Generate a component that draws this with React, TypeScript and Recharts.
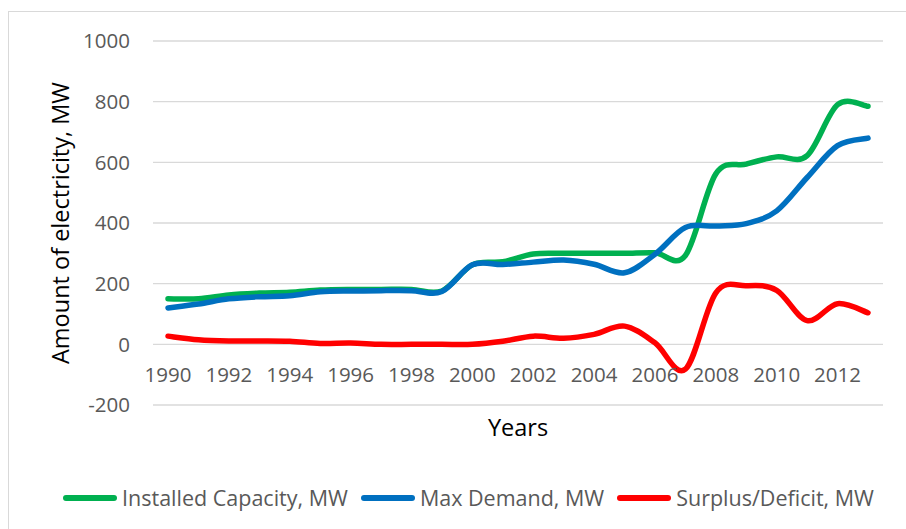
import React from 'react';
import { LineChart, Line, XAxis, YAxis, CartesianGrid, Legend } from 'recharts';

// years on the category axis
const years = [
  '1990', '1991', '1992', '1993', '1994', '1995', '1996', '1997', '1998', '1999', '2000', '2001',
  '2002', '2003', '2004', '2005', '2006', '2007', '2008', '2009', '2010', '2011', '2012', '2013',
];
const tickYears = ['1990', '1992', '1994', '1996', '1998', '2000', '2002', '2004', '2006', '2008', '2010', '2012'];
const yTicks = [-200, 0, 200, 400, 600, 800, 1000];

// MW
const installedCapacity = [150, 150, 163, 169, 172, 179, 181, 181, 181, 176, 262, 272, 298, 300, 300, 300, 302, 293, 562, 594, 618, 622, 790, 785];
const maxDemand = [120, 133, 150, 157, 160, 173, 176, 177, 177, 174, 262, 263, 271, 278, 264, 236, 297, 385, 390, 398, 440, 550, 655, 680];
const surplusDeficit = [27, 15, 11, 11, 10, 3, 4, 0, 0, 0, 0, 10, 27, 20, 33, 60, 5, -82, 170, 193, 178, 78, 134, 104];

const series = [
  { key: 'installed', name: 'Installed Capacity, MW', color: '#00B050' },
  { key: 'demand', name: 'Max Demand, MW', color: '#0070C0' },
  { key: 'surplus', name: 'Surplus/Deficit, MW', color: '#FF0000' },
];

const data = years.map((year, i) => ({
  year,
  installed: installedCapacity[i],
  demand: maxDemand[i],
  surplus: surplusDeficit[i],
}));

const FONT = '"Open Sans", sans-serif';
const GREY = '#595959';

// Excel style smoothed line (Catmull-Rom through every point)
const excelSmooth = (context: any) => {
  let pts: number[][] = [];
  return {
    areaStart() {},
    areaEnd() {},
    lineStart() {
      pts = [];
    },
    point(x: number, y: number) {
      pts.push([+x, +y]);
    },
    lineEnd() {
      const n = pts.length;
      if (!n) return;
      context.moveTo(pts[0][0], pts[0][1]);
      for (let i = 0; i < n - 1; i++) {
        const p0 = pts[Math.max(0, i - 1)];
        const p1 = pts[i];
        const p2 = pts[i + 1];
        const p3 = pts[Math.min(n - 1, i + 2)];
        context.bezierCurveTo(
          p1[0] + (p2[0] - p0[0]) / 6,
          p1[1] + (p2[1] - p0[1]) / 6,
          p2[0] - (p3[0] - p1[0]) / 6,
          p2[1] - (p3[1] - p1[1]) / 6,
          p2[0],
          p2[1]
        );
      }
    },
  };
};

const YearTick = ({ x, y, payload }: any) => (
  <text x={x} y={y - 31} textAnchor="middle" dominantBaseline="central" fill={GREY} fontSize={20.5} fontFamily={FONT}>
    {payload.value}
  </text>
);

const renderLegend = () => (
  <div style={{ display: 'flex', justifyContent: 'center', alignItems: 'center', fontFamily: FONT, fontSize: 21.5, color: GREY }}>
    {series.map((s) => (
      <div key={s.key} style={{ display: 'flex', alignItems: 'center', marginRight: 13 }}>
        <span style={{ display: 'inline-block', width: 54, height: 6, borderRadius: 3, background: s.color, marginRight: 5 }} />
        <span>{s.name}</span>
      </div>
    ))}
  </div>
);

export default function App() {
  return (
    <div style={{ position: 'absolute', left: 0, top: 0, width: 906, height: 529, overflow: 'hidden', background: '#fff' }}>
      <div style={{ position: 'absolute', left: 8, top: 11, width: 1000, height: 700, border: '1px solid #d9d9d9' }} />
      <div style={{ position: 'absolute', left: 0, top: 0 }}>
        <LineChart width={906} height={529} data={data} margin={{ top: 41, right: 23, left: 53, bottom: 74 }}>
          <CartesianGrid vertical={false} stroke="#d9d9d9" strokeWidth={1.3} />
          <XAxis
            dataKey="year"
            ticks={tickYears}
            interval={0}
            height={50}
            padding={{ left: 15, right: 15 }}
            axisLine={false}
            tickLine={false}
            tickSize={0}
            tickMargin={0}
            tick={<YearTick />}
            label={{
              content: ({ viewBox }: any) => (
                <text
                  x={viewBox.x + viewBox.width / 2}
                  y={viewBox.y + 22}
                  textAnchor="middle"
                  dominantBaseline="central"
                  fill="#000"
                  fontSize={23.5}
                  fontFamily={FONT}
                >
                  Years
                </text>
              ),
            }}
          />
          <YAxis
            domain={[-200, 1000]}
            ticks={yTicks}
            width={100}
            axisLine={false}
            tickLine={false}
            tickSize={0}
            tickMargin={23}
            tick={{ fill: GREY, fontSize: 20.5, fontFamily: FONT }}
            label={{
              content: ({ viewBox }: any) => {
                const cx = viewBox.x + 7;
                const cy = viewBox.y + viewBox.height / 2;
                return (
                  <text
                    x={cx}
                    y={cy}
                    transform={`rotate(-90, ${cx}, ${cy})`}
                    textAnchor="middle"
                    dominantBaseline="central"
                    fill="#000"
                    fontSize={23.5}
                    fontFamily={FONT}
                  >
                    Amount of electricity, MW
                  </text>
                );
              },
            }}
          />
          <Legend layout="horizontal" verticalAlign="middle" align="center" wrapperStyle={{ top: 483, left: 22, width: 906 }} content={renderLegend} />
          {series.map((s) => (
            <Line
              key={s.key}
              type={excelSmooth as any}
              dataKey={s.key}
              name={s.name}
              stroke={s.color}
              strokeWidth={5.5}
              strokeLinecap="round"
              dot={false}
              activeDot={false}
              isAnimationActive={false}
            />
          ))}
        </LineChart>
      </div>
    </div>
  );
}
